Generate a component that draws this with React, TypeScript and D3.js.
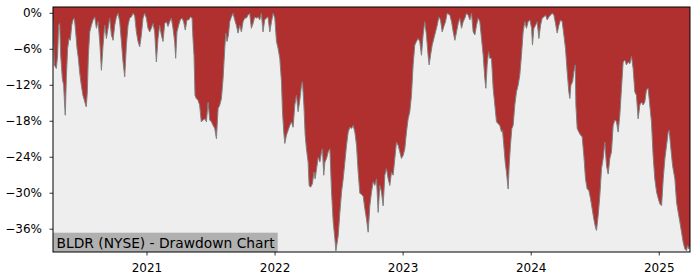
import React from "react";
import * as d3 from "d3";

// Drawdown (%) series for BLDR, [decimal year, drawdown %]
const dd2020: [number, number][] = [
  [2020.266,-1.0],[2020.276,-8.6],[2020.292,-9.2],[2020.302,-7.0],[2020.310,-2.0],[2020.318,-1.7],[2020.326,-7.0],[2020.339,-10.9],[2020.349,-12.0],[2020.357,-15.3],[2020.362,-17.0],[2020.370,-10.9],[2020.380,-5.9],[2020.391,-4.2],[2020.401,-4.5],[2020.412,-2.0],[2020.422,-1.1],[2020.433,-0.8],[2020.443,-3.1],[2020.454,-5.9],[2020.464,-7.5],[2020.474,-9.8],[2020.487,-12.0],[2020.500,-13.7],[2020.511,-14.5],[2020.521,-15.3],[2020.526,-15.6],[2020.534,-13.1],[2020.542,-7.0],[2020.553,-3.1],[2020.566,-2.0],[2020.579,-1.1],[2020.592,-0.6],[2020.605,-2.5],[2020.618,-1.4],[2020.631,-4.7],[2020.644,-9.5],[2020.657,-5.3],[2020.670,-2.0],[2020.683,-4.2],[2020.696,-2.5],[2020.709,-0.8],[2020.722,-3.6],[2020.735,-4.5],[2020.748,-2.0],[2020.761,-0.6],[2020.774,0],[2020.787,-1.4],[2020.800,-4.7],[2020.813,-8.1],[2020.826,-10.6],[2020.839,-5.3],[2020.852,-2.0],[2020.865,-0.8],[2020.878,-0.6],[2020.891,0],[2020.904,-0.4],[2020.917,-3.1],[2020.930,-4.7],[2020.943,-5.6],[2020.956,-3.6],[2020.969,-0.8],[2020.982,0],[2020.995,-0.8],
];
const dd2021: [number, number][] = [
  [2021.008,-2.5],[2021.021,-3.1],[2021.034,-2.5],[2021.047,-1.7],[2021.060,-3.1],[2021.073,-8.1],[2021.086,-4.2],[2021.099,-2.0],[2021.112,-3.6],[2021.125,-4.7],[2021.138,-1.7],[2021.151,-1.4],[2021.164,-2.2],[2021.177,-1.4],[2021.190,-0.8],[2021.203,-2.5],[2021.216,-4.7],[2021.224,-7.5],[2021.234,-3.1],[2021.247,-2.0],[2021.260,-1.1],[2021.273,-0.8],[2021.286,-1.4],[2021.299,-2.8],[2021.312,-1.1],[2021.326,-1.1],[2021.339,-0.6],[2021.352,-0.8],[2021.359,-4.2],[2021.367,-7.0],[2021.375,-13.7],[2021.385,-14.2],[2021.398,-14.5],[2021.411,-15.3],[2021.424,-18.1],[2021.438,-17.8],[2021.451,-17.6],[2021.464,-18.1],[2021.477,-14.8],[2021.490,-17.8],[2021.503,-18.1],[2021.516,-18.7],[2021.529,-19.2],[2021.542,-20.9],[2021.555,-15.9],[2021.568,-15.3],[2021.581,-14.2],[2021.594,-10.9],[2021.607,-5.9],[2021.615,-3.3],[2021.625,-4.7],[2021.636,-3.6],[2021.646,-1.4],[2021.659,-0.6],[2021.672,0],[2021.685,-1.1],[2021.698,-2.0],[2021.711,-3.3],[2021.724,-2.0],[2021.737,-3.1],[2021.750,-1.4],[2021.763,-0.8],[2021.776,-0.8],[2021.789,-0.3],[2021.802,0],[2021.815,-2.5],[2021.828,-1.7],[2021.841,-0.6],[2021.854,-0.8],[2021.867,-0.6],[2021.880,-1.1],[2021.893,0],[2021.906,-3.1],[2021.919,-1.1],[2021.932,-0.8],[2021.945,-0.6],[2021.959,-3.1],[2021.972,-1.4],[2021.985,0],[2021.998,-0.8],
];
const dd2022: [number, number][] = [
  [2022.011,-4.7],[2022.024,-5.9],[2022.037,-7.5],[2022.050,-11.4],[2022.058,-16.4],[2022.068,-19.8],[2022.076,-21.7],[2022.089,-20.3],[2022.102,-19.5],[2022.115,-18.7],[2022.128,-18.1],[2022.141,-19.0],[2022.154,-15.3],[2022.167,-13.7],[2022.180,-16.4],[2022.193,-14.5],[2022.206,-12.0],[2022.214,-11.4],[2022.225,-15.3],[2022.235,-20.3],[2022.245,-22.6],[2022.258,-24.8],[2022.266,-28.7],[2022.277,-29.0],[2022.292,-28.4],[2022.303,-26.5],[2022.313,-27.6],[2022.324,-25.9],[2022.337,-24.0],[2022.350,-24.8],[2022.363,-23.1],[2022.370,-22.6],[2022.380,-27.0],[2022.389,-24.8],[2022.402,-24.2],[2022.415,-23.1],[2022.428,-22.6],[2022.441,-29.8],[2022.454,-34.8],[2022.467,-37.6],[2022.475,-39.6],[2022.485,-38.2],[2022.493,-37.1],[2022.506,-33.2],[2022.519,-29.8],[2022.532,-27.6],[2022.545,-24.8],[2022.558,-22.0],[2022.571,-19.8],[2022.584,-19.0],[2022.597,-19.2],[2022.610,-18.7],[2022.623,-19.8],[2022.636,-22.0],[2022.649,-26.5],[2022.662,-30.0],[2022.675,-30.2],[2022.688,-30.5],[2022.701,-32.6],[2022.714,-34.3],[2022.727,-36.5],[2022.740,-32.1],[2022.753,-29.8],[2022.766,-28.1],[2022.779,-28.7],[2022.792,-27.6],[2022.805,-33.2],[2022.818,-28.7],[2022.831,-29.8],[2022.844,-32.1],[2022.857,-27.0],[2022.870,-25.9],[2022.883,-27.6],[2022.896,-28.7],[2022.909,-26.5],[2022.922,-27.0],[2022.935,-24.2],[2022.948,-21.5],[2022.961,-22.0],[2022.974,-23.1],[2022.987,-24.2],
];
const dd2023: [number, number][] = [
  [2023.000,-23.7],[2023.013,-22.6],[2023.026,-19.8],[2023.039,-17.6],[2023.052,-16.4],[2023.065,-13.7],[2023.078,-8.6],[2023.091,-5.3],[2023.104,-4.7],[2023.117,-4.2],[2023.130,-4.7],[2023.143,-7.0],[2023.156,-3.6],[2023.169,-1.4],[2023.182,-3.6],[2023.195,-7.0],[2023.203,-8.6],[2023.214,-7.0],[2023.227,-5.3],[2023.240,-4.2],[2023.253,-3.1],[2023.266,-2.0],[2023.279,-0.6],[2023.292,-1.1],[2023.305,-3.1],[2023.318,-2.2],[2023.331,-1.4],[2023.344,0],[2023.365,-0.3],[2023.378,-1.4],[2023.391,-3.1],[2023.404,-4.5],[2023.417,-3.1],[2023.430,-1.7],[2023.443,-0.8],[2023.456,-2.5],[2023.469,-1.4],[2023.482,-0.8],[2023.495,0],[2023.508,-0.3],[2023.521,-1.1],[2023.534,0],[2023.547,-3.1],[2023.560,-3.6],[2023.573,-2.0],[2023.586,-0.8],[2023.599,-1.4],[2023.612,-4.2],[2023.625,-7.0],[2023.638,-10.9],[2023.646,-12.5],[2023.656,-8.6],[2023.667,-6.4],[2023.677,-7.5],[2023.690,-7.5],[2023.703,-12.5],[2023.716,-15.3],[2023.729,-18.1],[2023.742,-18.4],[2023.755,-18.7],[2023.768,-19.8],[2023.776,-19.5],[2023.786,-22.0],[2023.797,-24.8],[2023.807,-26.5],[2023.820,-29.3],[2023.828,-25.4],[2023.838,-22.0],[2023.849,-19.2],[2023.859,-18.7],[2023.872,-15.3],[2023.885,-13.1],[2023.898,-12.0],[2023.911,-10.3],[2023.924,-7.0],[2023.937,-3.1],[2023.950,-1.4],[2023.963,-2.5],[2023.976,-1.4],[2023.990,-1.1],
];
const dd2024: [number, number][] = [
  [2024.003,-2.5],[2024.010,-5.3],[2024.021,-2.5],[2024.034,-2.0],[2024.047,-1.4],[2024.060,-4.2],[2024.073,-2.0],[2024.086,-0.8],[2024.099,-0.6],[2024.112,-0.3],[2024.125,-1.1],[2024.138,-0.6],[2024.151,-0.3],[2024.164,0],[2024.177,-0.3],[2024.190,-1.7],[2024.203,-3.3],[2024.216,-2.0],[2024.229,-1.1],[2024.242,-1.4],[2024.255,-3.6],[2024.268,-5.9],[2024.281,-9.8],[2024.294,-13.1],[2024.302,-14.2],[2024.310,-12.0],[2024.323,-11.4],[2024.333,-9.8],[2024.344,-8.6],[2024.349,-15.3],[2024.359,-19.2],[2024.372,-19.8],[2024.385,-20.3],[2024.398,-20.6],[2024.411,-23.7],[2024.424,-27.6],[2024.437,-29.3],[2024.450,-29.5],[2024.463,-30.9],[2024.476,-32.6],[2024.489,-34.3],[2024.502,-35.7],[2024.510,-36.2],[2024.523,-33.7],[2024.536,-30.4],[2024.549,-25.9],[2024.562,-24.2],[2024.575,-21.5],[2024.588,-25.4],[2024.601,-26.8],[2024.614,-24.2],[2024.627,-23.1],[2024.640,-18.7],[2024.653,-17.8],[2024.666,-18.1],[2024.679,-19.8],[2024.692,-17.0],[2024.705,-12.5],[2024.718,-8.1],[2024.731,-7.8],[2024.744,-8.6],[2024.757,-8.1],[2024.770,-8.4],[2024.783,-7.2],[2024.796,-9.2],[2024.809,-13.1],[2024.822,-13.7],[2024.835,-17.6],[2024.848,-15.3],[2024.861,-14.8],[2024.874,-15.3],[2024.887,-14.8],[2024.900,-12.8],[2024.913,-12.5],[2024.926,-15.3],[2024.939,-18.1],[2024.952,-23.7],[2024.965,-27.6],[2024.979,-29.8],[2024.992,-30.9],
];
const dd2025: [number, number][] = [
  [2025.005,-31.8],[2025.018,-32.1],[2025.031,-27.6],[2025.044,-24.2],[2025.057,-22.0],[2025.070,-19.8],[2025.078,-19.5],[2025.088,-22.0],[2025.104,-25.4],[2025.122,-27.6],[2025.135,-31.5],[2025.148,-33.2],[2025.161,-34.8],[2025.174,-36.5],[2025.187,-38.2],[2025.200,-39.3],[2025.213,-39.6],[2025.221,-38.7],[2025.231,-39.3],[2025.240,-38.8],
];

const yTicks = [0, -6, -12, -18, -24, -30, -36];
const xTicks = [2021, 2022, 2023, 2024, 2025];
const title = "BLDR (NYSE) - Drawdown Chart";

const W = 700, H = 280;
const L = 53, R = 690, T = 7, B = 252;
const FONT = "'DejaVu Sans', sans-serif";

export default function App() {
  const data = [...dd2020, ...dd2021, ...dd2022, ...dd2023, ...dd2024, ...dd2025];
  const x = d3.scaleLinear().domain([data[0][0], data[data.length - 1][0]]).range([L, R]);
  const y = d3.scaleLinear().domain([-39.8, 1.05]).range([B, T]);
  const area = d3.area<[number, number]>()
    .x((d) => x(d[0]))
    .y0(() => y(1.05))
    .y1((d) => y(d[1]));
  const line = d3.line<[number, number]>()
    .x((d) => x(d[0]))
    .y((d) => y(d[1]));
  const fmt = (v: number) => (v < 0 ? "\u2212" + Math.abs(v) : String(v)) + "%";

  return (
    <svg width={W} height={H} style={{ position: "absolute", left: 0, top: 0, background: "#fff" }}>
      <defs>
        <clipPath id="plot">
          <rect x={L} y={T} width={R - L} height={B - T} />
        </clipPath>
      </defs>
      <rect x={L} y={T} width={R - L} height={B - T} fill="#eeeeee" />
      <g clipPath="url(#plot)">
        <path d={area(data) ?? ""} fill="#b03030" />
        <path d={line(data) ?? ""} fill="none" stroke="#808080" strokeWidth={1} />
      </g>
      <rect x={L} y={232.7} width={277.7 - L} height={B - 232.7} fill="#b0b0b0" />
      <text x={56.5} y={247.5} fontFamily={FONT} fontSize={13.8} fill="#000">{title}</text>
      <rect x={L} y={T} width={R - L} height={B - T} fill="none" stroke="#000" strokeWidth={1} />
      {yTicks.map((t) => (
        <g key={t}>
          <line x1={L - 3.5} x2={L} y1={y(t)} y2={y(t)} stroke="#000" strokeWidth={0.8} />
          <text x={L - 11} y={y(t)} dy="0.35em" textAnchor="end" fontFamily={FONT} fontSize={12} fill="#000">
            {fmt(t)}
          </text>
        </g>
      ))}
      {xTicks.map((t) => (
        <g key={t}>
          <line x1={x(t)} x2={x(t)} y1={B} y2={B + 3.5} stroke="#000" strokeWidth={0.8} />
          <text x={x(t)} y={272.3} textAnchor="middle" fontFamily={FONT} fontSize={12} fill="#000">
            {t}
          </text>
        </g>
      ))}
    </svg>
  );
}
